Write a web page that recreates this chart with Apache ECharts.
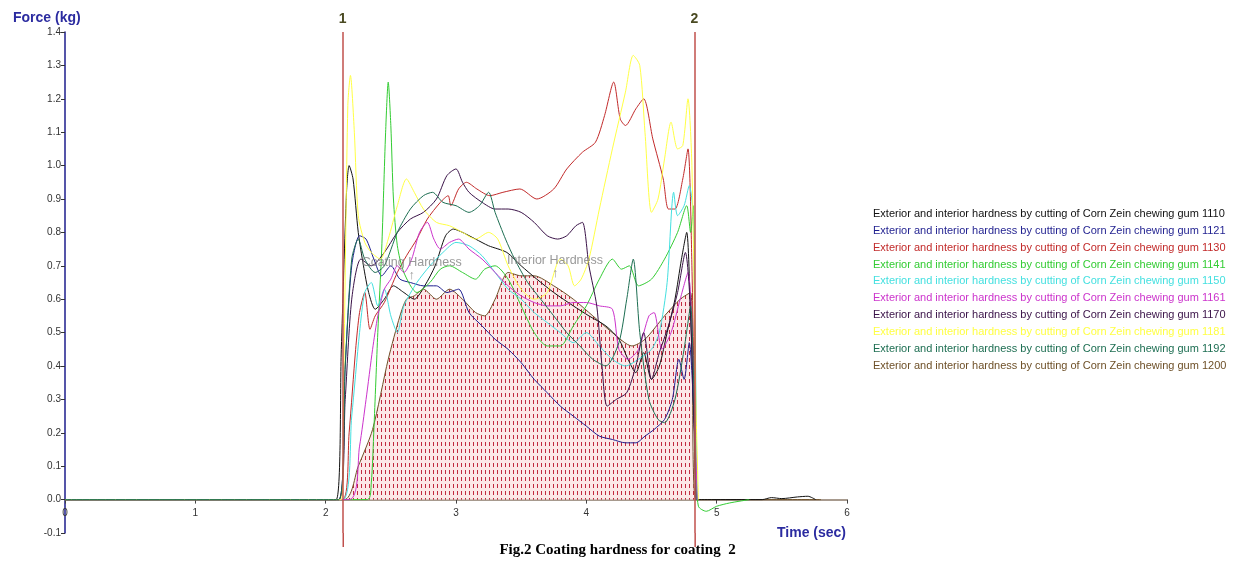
<!DOCTYPE html>
<html>
<head>
<meta charset="utf-8">
<script src="https://cdn.jsdelivr.net/npm/echarts@6/dist/echarts.min.js"></script>
<style>
html,body{margin:0;padding:0;background:#fff;}
#chart{width:1235px;height:563px;}
</style>
</head>
<body>
<div id="chart"></div>
<script>
// ---------- DATA ----------
const seriesNames = [
  'Exterior and interior hardness by cutting of Corn Zein chewing gum 1110',
  'Exterior and interior hardness by cutting of Corn Zein chewing gum 1121',
  'Exterior and interior hardness by cutting of Corn Zein chewing gum 1130',
  'Exterior and interior hardness by cutting of Corn Zein chewing gum 1141',
  'Exterior and interior hardness by cutting of Corn Zein chewing gum 1150',
  'Exterior and interior hardness by cutting of Corn Zein chewing gum 1161',
  'Exterior and interior hardness by cutting of Corn Zein chewing gum 1170',
  'Exterior and interior hardness by cutting of Corn Zein chewing gum 1181',
  'Exterior and interior hardness by cutting of Corn Zein chewing gum 1192',
  'Exterior and interior hardness by cutting of Corn Zein chewing gum 1200'
];
const seriesColors = ['#111111','#1f1f8f','#c22a2a','#33cc33','#44e0e0','#cc33cc','#3a1248','#ffff44','#1d6e52','#6e5028'];

// [time (sec), force (kg)]
const gum1110 = [[0,0],[2.08,0],[2.12,0.45],[2.16,0.92],[2.18,1.0],[2.21,0.96],[2.25,0.8],[2.29,0.7],[2.33,0.62],[2.38,0.57],[2.45,0.6],[2.52,0.64],[2.6,0.62],[2.68,0.6],[2.76,0.64],[2.84,0.7],[2.92,0.79],[2.98,0.81],[3.05,0.8],[3.15,0.78],[3.25,0.76],[3.39,0.74],[3.5,0.7],[3.62,0.66],[3.75,0.62],[3.9,0.58],[4.02,0.55],[4.15,0.52],[4.25,0.48],[4.32,0.42],[4.38,0.38],[4.44,0.44],[4.5,0.36],[4.56,0.4],[4.62,0.5],[4.68,0.6],[4.73,0.72],[4.77,0.8],[4.8,0.55],[4.83,0.2],[4.86,0],[5.35,0],[5.42,0.006],[5.5,0.003],[5.62,0.008],[5.7,0.01],[5.76,0]];
const gum1121 = [[0,0],[2.1,0],[2.15,0.4],[2.2,0.7],[2.26,0.79],[2.31,0.78],[2.37,0.72],[2.43,0.67],[2.5,0.7],[2.57,0.66],[2.65,0.65],[2.75,0.64],[2.85,0.64],[2.93,0.62],[3.02,0.63],[3.1,0.56],[3.2,0.52],[3.3,0.48],[3.4,0.45],[3.5,0.41],[3.6,0.36],[3.7,0.32],[3.8,0.28],[3.9,0.25],[4.0,0.22],[4.1,0.19],[4.2,0.18],[4.3,0.17],[4.38,0.17],[4.45,0.19],[4.52,0.21],[4.6,0.24],[4.66,0.3],[4.71,0.42],[4.75,0.36],[4.79,0.47],[4.82,0.3],[4.85,0]];
const gum1130 = [[0,0],[2.13,0],[2.18,0.2],[2.23,0.45],[2.26,0.56],[2.3,0.62],[2.34,0.51],[2.38,0.55],[2.45,0.59],[2.55,0.68],[2.62,0.73],[2.7,0.78],[2.78,0.84],[2.88,0.89],[2.94,0.91],[2.96,0.88],[3.02,0.93],[3.08,0.95],[3.16,0.93],[3.26,0.91],[3.36,0.92],[3.49,0.93],[3.62,0.9],[3.75,0.93],[3.85,0.99],[3.97,1.04],[4.07,1.07],[4.14,1.15],[4.21,1.25],[4.26,1.14],[4.3,1.12],[4.38,1.17],[4.44,1.2],[4.51,1.08],[4.59,0.96],[4.63,0.87],[4.68,0.87],[4.74,0.96],[4.78,1.05],[4.81,0.7],[4.84,0]];
const gum1141 = [[0,0],[2.32,0],[2.35,0.05],[2.37,0.21],[2.4,0.5],[2.43,0.75],[2.46,1.1],[2.48,1.25],[2.5,1.12],[2.52,0.9],[2.55,0.76],[2.6,0.68],[2.7,0.62],[2.8,0.65],[2.88,0.69],[2.95,0.7],[3.05,0.68],[3.15,0.66],[3.22,0.69],[3.3,0.7],[3.4,0.66],[3.5,0.58],[3.6,0.5],[3.7,0.46],[3.8,0.46],[3.9,0.52],[4.0,0.58],[4.1,0.66],[4.2,0.72],[4.27,0.69],[4.33,0.7],[4.4,0.64],[4.5,0.66],[4.6,0.72],[4.7,0.8],[4.77,0.88],[4.8,0.8],[4.82,0.88],[4.84,0.1],[4.86,-0.02],[4.92,-0.035],[5.0,-0.02],[5.1,-0.01],[5.25,0]];
const gum1150 = [[0,0],[2.13,0],[2.2,0.25],[2.26,0.5],[2.3,0.62],[2.35,0.65],[2.4,0.58],[2.45,0.63],[2.5,0.55],[2.55,0.5],[2.6,0.58],[2.7,0.65],[2.8,0.7],[2.9,0.74],[3.0,0.77],[3.1,0.76],[3.2,0.73],[3.3,0.68],[3.4,0.63],[3.5,0.6],[3.6,0.56],[3.7,0.53],[3.8,0.5],[3.9,0.47],[4.0,0.5],[4.1,0.46],[4.2,0.42],[4.3,0.4],[4.4,0.42],[4.5,0.45],[4.56,0.5],[4.62,0.65],[4.67,0.92],[4.7,0.85],[4.75,0.88],[4.79,0.94],[4.82,0.85],[4.85,0]];
const gum1161 = [[0,0],[2.18,0],[2.26,0.16],[2.31,0.3],[2.36,0.45],[2.4,0.55],[2.45,0.63],[2.5,0.66],[2.55,0.7],[2.6,0.68],[2.66,0.72],[2.72,0.8],[2.78,0.83],[2.83,0.78],[2.88,0.75],[2.95,0.77],[3.02,0.78],[3.1,0.75],[3.2,0.72],[3.3,0.68],[3.4,0.64],[3.5,0.61],[3.6,0.59],[3.7,0.58],[3.8,0.58],[3.9,0.59],[4.0,0.59],[4.1,0.58],[4.2,0.57],[4.25,0.45],[4.32,0.42],[4.4,0.45],[4.48,0.55],[4.52,0.56],[4.58,0.45],[4.65,0.5],[4.72,0.6],[4.78,0.68],[4.82,0.4],[4.85,0]];
const gum1170 = [[0,0],[2.1,0],[2.15,0.3],[2.2,0.6],[2.27,0.72],[2.35,0.7],[2.45,0.74],[2.55,0.8],[2.65,0.84],[2.75,0.86],[2.85,0.9],[2.93,0.97],[3.0,0.99],[3.05,0.95],[3.1,0.92],[3.2,0.89],[3.3,0.87],[3.4,0.87],[3.5,0.86],[3.6,0.83],[3.7,0.79],[3.78,0.78],[3.85,0.79],[3.92,0.82],[3.97,0.83],[4.02,0.7],[4.08,0.58],[4.12,0.4],[4.16,0.28],[4.23,0.3],[4.31,0.32],[4.38,0.4],[4.44,0.5],[4.5,0.36],[4.56,0.44],[4.63,0.52],[4.7,0.62],[4.76,0.74],[4.8,0.56],[4.84,0]];
const gum1181 = [[0,0],[2.12,0],[2.14,0.4],[2.17,1.18],[2.19,1.27],[2.22,1.1],[2.25,0.85],[2.3,0.77],[2.35,0.74],[2.42,0.72],[2.48,0.78],[2.55,0.88],[2.62,0.96],[2.68,0.92],[2.75,0.87],[2.85,0.83],[2.95,0.82],[3.05,0.8],[3.15,0.78],[3.25,0.8],[3.32,0.78],[3.4,0.7],[3.5,0.63],[3.6,0.6],[3.7,0.62],[3.8,0.72],[3.86,0.7],[3.91,0.64],[3.96,0.66],[4.02,0.72],[4.1,0.87],[4.2,1.05],[4.3,1.22],[4.36,1.33],[4.41,1.3],[4.45,1.1],[4.5,0.86],[4.55,0.9],[4.6,1.02],[4.65,1.13],[4.7,1.05],[4.74,1.06],[4.78,1.2],[4.81,1.0],[4.84,0.3],[4.86,0]];
const gum1192 = [[0,0],[2.1,0],[2.15,0.4],[2.2,0.72],[2.25,0.78],[2.3,0.72],[2.38,0.68],[2.45,0.7],[2.55,0.8],[2.65,0.87],[2.75,0.91],[2.82,0.92],[2.9,0.89],[3.0,0.88],[3.1,0.86],[3.18,0.88],[3.25,0.92],[3.3,0.86],[3.38,0.78],[3.45,0.72],[3.55,0.65],[3.65,0.6],[3.75,0.55],[3.85,0.5],[3.95,0.46],[4.05,0.42],[4.15,0.4],[4.25,0.47],[4.31,0.6],[4.36,0.72],[4.41,0.5],[4.48,0.3],[4.55,0.24],[4.6,0.23],[4.68,0.3],[4.75,0.45],[4.8,0.58],[4.84,0]];
const gum1200 = [[0,0],[2.14,0],[2.25,0.1],[2.36,0.21],[2.48,0.42],[2.57,0.55],[2.62,0.6],[2.68,0.61],[2.75,0.63],[2.85,0.6],[2.95,0.63],[3.05,0.6],[3.15,0.56],[3.22,0.55],[3.3,0.6],[3.4,0.68],[3.5,0.67],[3.6,0.67],[3.75,0.64],[3.9,0.6],[4.05,0.55],[4.2,0.5],[4.35,0.46],[4.45,0.48],[4.6,0.55],[4.72,0.6],[4.8,0.62],[4.84,0],[5.8,0]];
const seriesData = [gum1110,gum1121,gum1130,gum1141,gum1150,gum1161,gum1170,gum1181,gum1192,gum1200];

const markerTimes = [2.135, 4.835];
const markerLabels = ['1', '2'];
const annotations = [[2.66, 0.69, 'Coating Hardness'], [3.76, 0.695, 'Interior Hardness']];
const yTickFormat = v => v.toFixed(1);

// ---------- CHART ----------
const chart = echarts.init(document.getElementById('chart'), null, {renderer: 'canvas'});

// hatch pattern for the area
const pat = document.createElement('canvas');
pat.width = 4; pat.height = 7;
const pctx = pat.getContext('2d');
pctx.fillStyle = 'rgb(252,232,232)';
pctx.fillRect(0,0,4,7);
pctx.fillStyle = '#c02a40';
pctx.fillRect(1,1,1,4);

const series = seriesNames.map((name, i) => {
  const s = {
    name: name,
    type: 'line',
    data: seriesData[i],
    showSymbol: false,
    symbol: 'none',
    smooth: 0.25,
    lineStyle: {color: seriesColors[i], width: 1},
    itemStyle: {color: seriesColors[i]},
    emphasis: {disabled: true},
    z: 3
  };
  if (i === seriesNames.length - 1) {
    s.areaStyle = {color: {image: pat, repeat: 'repeat'}, opacity: 1};
    s.z = 2;
  }
  return s;
});

series[0].markLine = {
  silent: true,
  symbol: 'none',
  lineStyle: {color: '#c0504d', width: 1.5, type: 'solid'},
  label: {show: true, position: 'end', formatter: p => markerLabels[p.dataIndex], color: '#4a4a22', fontWeight: 'bold', fontSize: 14, fontFamily: 'Liberation Sans', distance: 6},
  data: markerTimes.map(t => ({xAxis: t}))
};

series.push({
  name: 'annotations',
  type: 'scatter',
  data: annotations,
  symbolSize: 0,
  silent: true,
  z: 5,
  label: {
    show: true, position: 'inside',
    formatter: p => p.value[2] + '\n↑',
    color: '#808080', fontSize: 12.5, fontFamily: 'Liberation Sans', lineHeight: 13, align: 'center'
  }
});

chart.setOption({
  animation: false,
  backgroundColor: '#ffffff',
  title: [
    {text: 'Force (kg)', left: 8, top: 6, textStyle: {color: '#2b2ba0', fontSize: 14, fontWeight: 'bold', fontFamily: 'Liberation Sans'}},
    {text: 'Time (sec)', left: 772, top: 521, textStyle: {color: '#2b2ba0', fontSize: 14, fontWeight: 'bold', fontFamily: 'Liberation Sans'}},
    {text: 'Fig.2 Coating hardness for coating  2', left: 'center', top: 538, textStyle: {color: '#000', fontSize: 15, fontWeight: 'bold', fontFamily: 'Liberation Serif'}}
  ],
  legend: {
    orient: 'vertical',
    left: 867, top: 203,
    icon: 'none',
    itemWidth: 0, itemHeight: 12,
    itemGap: 5.35,
    selectedMode: false,
    data: seriesNames.map((n, i) => ({name: n, textStyle: {color: seriesColors[i]}})),
    textStyle: {fontSize: 11, fontFamily: 'Liberation Sans', padding: [0,0,0,-4]}
  },
  grid: {left: 65, right: 388, top: 32, bottom: 30, containLabel: false},
  xAxis: {
    type: 'value', min: 0, max: 6, interval: 1,
    axisLine: {onZero: true, lineStyle: {color: '#8a7a6a', width: 1.5}},
    axisTick: {show: true, length: 4, inside: false, lineStyle: {color: '#444'}},
    axisLabel: {color: '#333', fontSize: 10, fontFamily: 'Liberation Sans', margin: -25},
    splitLine: {show: false}
  },
  yAxis: {
    type: 'value', min: -0.1, max: 1.4, interval: 0.1,
    axisLine: {show: true, onZero: false, lineStyle: {color: '#1c1c8c', width: 1.5}},
    axisTick: {show: true, length: 4, lineStyle: {color: '#333'}},
    axisLabel: {color: '#333', fontSize: 10, fontFamily: 'Liberation Sans', margin: 4, formatter: yTickFormat},
    splitLine: {show: false}
  },
  series: series
});

// extend the marker lines below the plot area, positions taken from the x scale
const yBottom = chart.convertToPixel({yAxisIndex: 0}, -0.1);
chart.setOption({
  graphic: markerTimes.map(t => {
    const px = chart.convertToPixel({xAxisIndex: 0}, t);
    return {type: 'line', silent: true, shape: {x1: px, y1: yBottom, x2: px, y2: yBottom + 14}, style: {stroke: '#c0504d', lineWidth: 1.5}};
  })
});
</script>
</body>
</html>
